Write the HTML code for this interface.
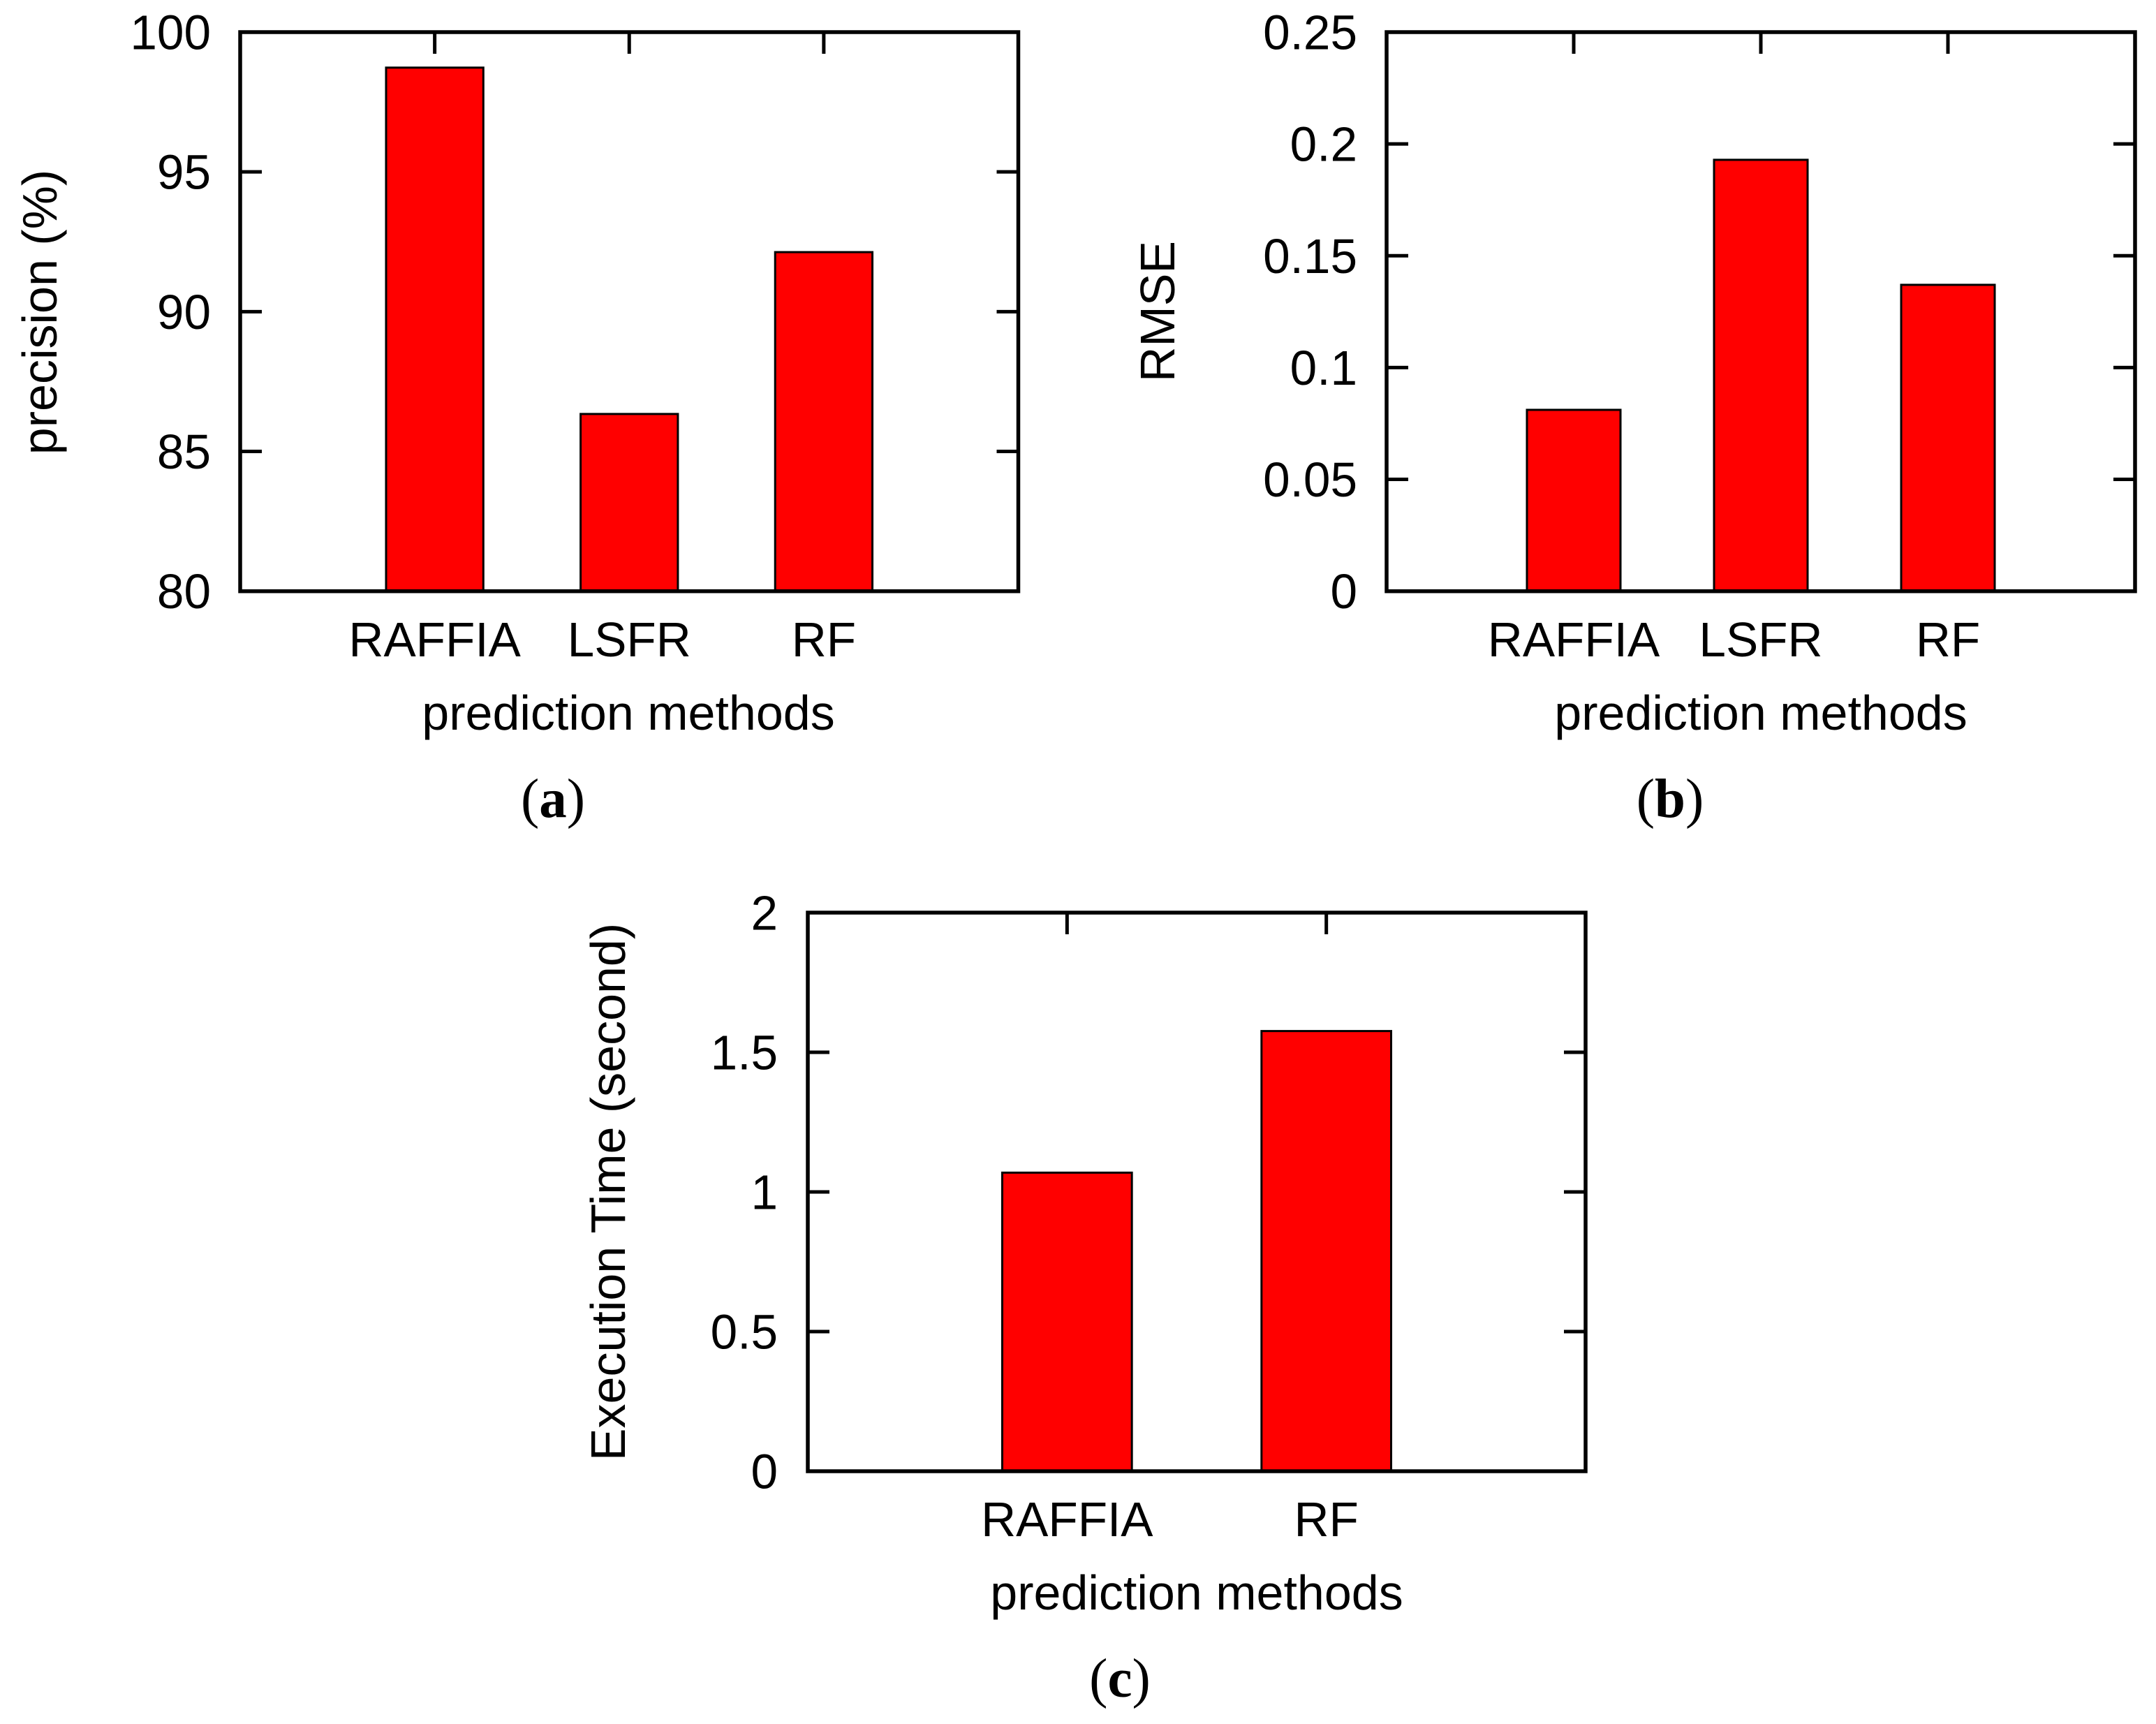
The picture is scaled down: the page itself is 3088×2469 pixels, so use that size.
<!DOCTYPE html>
<html lang="en">
<head>
<meta charset="utf-8">
<title>Prediction method comparison</title>
<style>
html,body{margin:0;padding:0;background:#fff;}
svg{display:block;}
text{font-family:"Liberation Sans",sans-serif;font-size:70px;fill:#000;}
.tick-text{font-size:69.3px;}
.caption{font-family:"Liberation Serif",serif;font-size:79px;}
.caption .letter{font-weight:bold;}
</style>
</head>
<body>
<svg id="figure" xmlns="http://www.w3.org/2000/svg" width="3088" height="2469" viewBox="0 0 3088 2469">
  <rect x="0" y="0" width="3088" height="2469" fill="#fff"/>
  <g id="panel-a">
    <text transform="translate(81 447) rotate(-90)" text-anchor="middle">precision (%)</text>
    <text x="900" y="1045" text-anchor="middle">prediction methods</text>
    <text class="caption" x="792" y="1170" text-anchor="middle">(<tspan class="letter">a</tspan>)</text>
  </g>
  <g id="panel-b">
    <text transform="translate(1682 446) rotate(-90)" text-anchor="middle">RMSE</text>
    <text x="2522" y="1045" text-anchor="middle">prediction methods</text>
    <text class="caption" x="2392" y="1170" text-anchor="middle">(<tspan class="letter">b</tspan>)</text>
  </g>
  <g id="panel-c">
    <text transform="translate(895 1707) rotate(-90)" text-anchor="middle">Execution Time (second)</text>
    <text x="1714" y="2305" text-anchor="middle">prediction methods</text>
    <text class="caption" x="1604" y="2430" text-anchor="middle">(<tspan class="letter">c</tspan>)</text>
  </g>
</svg>
<script>
// Panel (a)
const precisionCategories = ["RAFFIA", "LSFR", "RF"];
const precisionValues = [98.73, 86.34, 92.13];
const precisionTickLabels = ["80", "85", "90", "95", "100"];
// Panel (b)
const rmseCategories = ["RAFFIA", "LSFR", "RF"];
const rmseValues = [0.0811, 0.1929, 0.137];
const rmseTickLabels = ["0", "0.05", "0.1", "0.15", "0.2", "0.25"];
// Panel (c)
const timeCategories = ["RAFFIA", "RF"];
const timeValues = [1.069, 1.576];
const timeTickLabels = ["0", "0.5", "1", "1.5", "2"];

const SVG_NS = "http://www.w3.org/2000/svg";

function make(tag, attrs, parent) {
  const el = document.createElementNS(SVG_NS, tag);
  for (const k in attrs) el.setAttribute(k, attrs[k]);
  parent.appendChild(el);
  return el;
}

function drawPanel(panelId, box, categories, values, tickLabels, labelRight, catBaseline, yDomainMin, yDomainMax) {
  const parent = document.getElementById(panelId);
  const unit = (box.right - box.left) / (categories.length + 1);
  const xScale = function (i) { return box.left + unit * (i + 1); };
  const yScale = function (v) {
    return box.bottom - (v - yDomainMin) / (yDomainMax - yDomainMin) * (box.bottom - box.top);
  };
  const barWidth = unit * 0.5;
  const tickLen = 31;

  tickLabels.forEach(function (label) {
    const v = parseFloat(label);
    const y = yScale(v);
    const text = make("text", { class: "tick-text", x: labelRight, y: y + 24.5, "text-anchor": "end" }, parent);
    text.textContent = label;
    
    
    if (v > yDomainMin && v < yDomainMax) {
      const leftTick = make("line", { x1: box.left, x2: box.left + tickLen, y1: y, y2: y, stroke: "#000", "stroke-width": 5 }, parent);
      
      
      const rightTick = make("line", { x1: box.right - tickLen, x2: box.right, y1: y, y2: y, stroke: "#000", "stroke-width": 5 }, parent);
      
      
    }
  });

  categories.forEach(function (name, i) {
    const x = xScale(i);
    const topTick = make("line", { x1: x, x2: x, y1: box.top, y2: box.top + tickLen, stroke: "#000", "stroke-width": 5 }, parent);
    
    

    const yTop = yScale(values[i]);
    const bar = make("rect", {
      x: x - barWidth / 2,
      y: yTop,
      width: barWidth,
      height: box.bottom - yTop,
      fill: "#ff0000",
      stroke: "#000",
      "stroke-width": 3
    }, parent);
    
    

    const text = make("text", { class: "tick-text", x: x, y: catBaseline, "text-anchor": "middle" }, parent);
    text.textContent = name;
    
    
  });

  const frame = make("rect", {
    x: box.left,
    y: box.top,
    width: box.right - box.left,
    height: box.bottom - box.top,
    fill: "none",
    stroke: "#000",
    "stroke-width": 5.5
  }, parent);
  
  
}

drawPanel("panel-a", { left: 344, right: 1458.5, top: 46, bottom: 846.7 },
  precisionCategories, precisionValues, precisionTickLabels, 302, 940,
  parseFloat(precisionTickLabels[0]), parseFloat(precisionTickLabels[precisionTickLabels.length - 1]));
drawPanel("panel-b", { left: 1986, right: 3058, top: 46, bottom: 846.7 },
  rmseCategories, rmseValues, rmseTickLabels, 1944, 940,
  parseFloat(rmseTickLabels[0]), parseFloat(rmseTickLabels[rmseTickLabels.length - 1]));
drawPanel("panel-c", { left: 1157, right: 2271, top: 1307, bottom: 2107 },
  timeCategories, timeValues, timeTickLabels, 1114, 2200,
  parseFloat(timeTickLabels[0]), parseFloat(timeTickLabels[timeTickLabels.length - 1]));
</script>
</body>
</html>
